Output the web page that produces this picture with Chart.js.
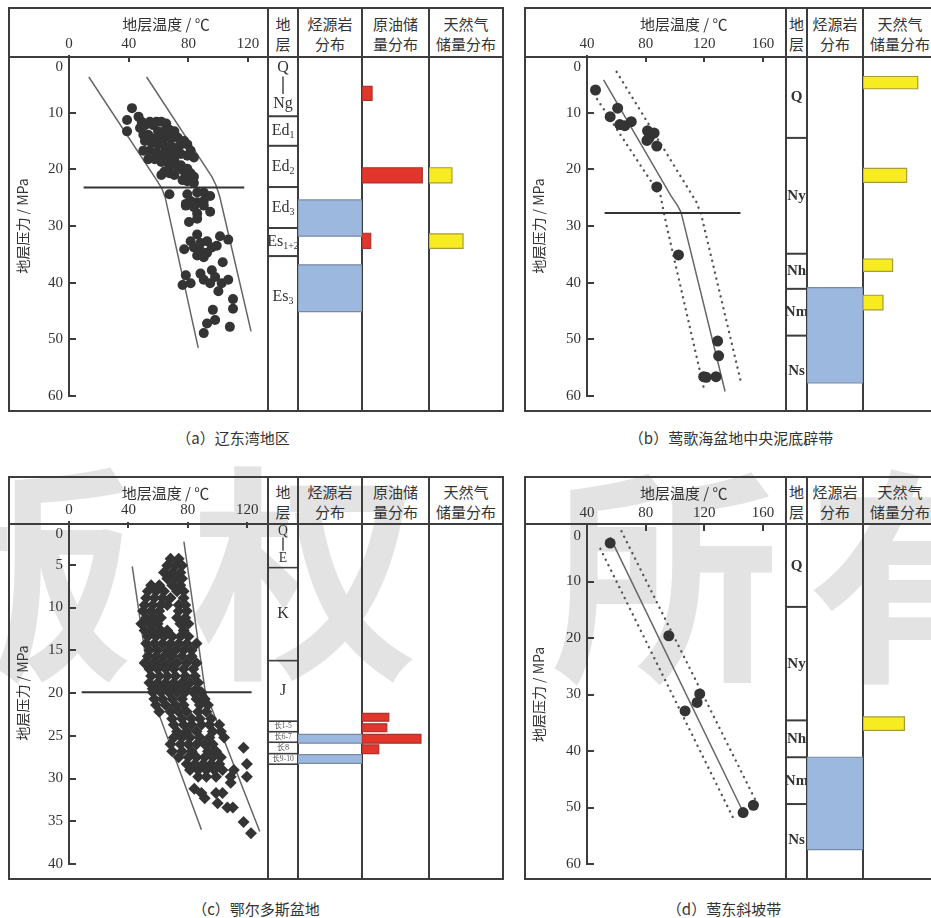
<!DOCTYPE html>
<html>
<head>
<meta charset="utf-8">
<script src="https://cdn.jsdelivr.net/npm/chart.js@4.4.1/dist/chart.umd.min.js"></script>
<style>
  html, body { margin: 0; padding: 0; background: #fff; }
  #page { position: relative; width: 931px; height: 918px; overflow: hidden; background: #fff;
          font-family: "Noto Sans CJK SC", sans-serif; color: #333; }
  .wm { position: absolute; font: 700 228px/1 "Noto Sans CJK SC", sans-serif; color: #e3e3e3;
        transform: translate(-50%, -50%); white-space: nowrap; }
  .rule { position: absolute; background: #3d3d3d; }
  .hd { position: absolute; text-align: center; font-size: 15px; line-height: 20px; color: #333;
        white-space: nowrap; overflow: visible; }
  .cap { position: absolute; font-size: 15px; color: #333; white-space: nowrap;
         transform: translate(-50%, -50%); }
  canvas { position: absolute; }
</style>
</head>
<body>
<div id="page"></div>
<script>
// ---------- axis ticks ----------
const tempTicks0 = [0, 40, 80, 120];
const tempTicks40 = [40, 80, 120, 160];
const pressTicks60 = [0, 10, 20, 30, 40, 50, 60];
const pressTicks40 = [0, 5, 10, 15, 20, 25, 30, 35, 40];

// ---------- (a) 辽东湾地区 ----------
const liaodongPoints = [
  [42.2,9.2],[38.9,11.3],[38.9,13.3],[46.6,10.7],[48.7,11.6],[47.6,12.7],[50.9,12.2],[54.2,11.6],
  [56.4,12.2],[58.6,11.6],[61.9,11.6],[65.1,11.9],[59.7,13.3],[64.0,13.3],[67.3,13.0],[70.6,13.3],
  [72.8,14.4],[68.4,14.4],[64.0,14.4],[58.6,14.4],[53.1,13.9],[49.8,13.9],[50.9,15.0],[55.3,15.3],
  [59.7,15.6],[64.0,15.9],[68.4,15.9],[73.9,15.9],[77.2,15.0],[79.3,15.6],[81.5,16.7],[83.7,17.9],
  [79.3,17.6],[75.0,17.3],[71.7,17.0],[67.3,17.3],[62.9,17.3],[58.6,17.0],[54.2,16.7],[49.8,16.7],
  [53.1,18.2],[57.5,18.2],[61.9,18.7],[66.2,18.7],[70.6,18.4],[67.3,19.6],[72.8,19.6],[75.0,19.3],
  [64.0,20.4],[61.9,21.0],[67.3,20.7],[70.6,21.0],[76.1,20.1],[79.3,19.9],[78.3,21.0],[81.5,20.7],
  [83.7,21.3],[76.1,21.9],[79.3,22.1],[83.7,22.4],[67.3,24.4],[79.3,24.4],[85.9,24.1],[90.3,24.1],
  [94.6,24.7],[81.5,25.6],[85.9,25.8],[90.3,25.6],[78.3,26.1],[85.9,27.8],[94.6,27.5],
  [78.3,26.4],[83.7,26.7],[90.3,26.4],[80.4,29.3],[85.9,28.7],[85.9,31.5],[81.5,32.7],[77.2,34.1],
  [83.7,33.8],[88.1,34.4],[92.5,32.7],[92.5,34.7],[95.7,33.8],[90.3,35.5],[85.9,35.2],[99.0,33.5],
  [101.2,31.8],[106.7,32.4],[88.1,33.0],[103.0,36.4],[78.3,38.7],[76.1,40.4],[81.5,40.1],[88.1,38.4],
  [90.3,39.5],[95.7,37.8],[97.9,39.0],[94.6,40.1],[102.3,40.1],[106.7,39.5],[100.1,41.5],[109.9,42.9],
  [109.9,44.6],[96.4,44.8],[97.9,46.6],[92.5,47.2],[90.3,48.9],[107.8,47.8]
];
const liaodongLowerBound = [[13.3,3.7],[59.5,22.2],[62.2,23.4],[64.5,25.0],[86.6,51.5]];
const liaodongUpperBound = [[52.0,3.7],[95.7,21.3],[98.5,22.8],[101.0,24.8],[122.0,48.6]];
const liaodongCutoff = [[9.8,23.2],[117.4,23.2]];
const liaodongStrata = ['Q|Ng', 'Ed_1', 'Ed_2', 'Ed_3', 'Es_1+2', 'Es_3'];
const liaodongStrataTop = [0, 10.3, 15.35, 22.4, 29.4, 34.2];
const liaodongStrataBase = [10.3, 15.35, 22.4, 29.4, 34.2, 48.2];
const liaodongBoundaries = [10.3, 15.35, 22.4, 29.4, 34.2];
const liaodongSourceTop = [24.6, 35.7];
const liaodongSourceBase = [30.8, 43.7];
const liaodongOilTop = [5.2, 19.1, 30.3];
const liaodongOilBase = [7.6, 21.7, 32.9];
const liaodongOilShare = [15, 90, 13];
const liaodongGasTop = [19.1, 30.4];
const liaodongGasBase = [21.7, 32.9];
const liaodongGasShare = [31, 46];

// ---------- (b) 莺歌海盆地中央泥底辟带 ----------
const diapirPoints = [
  [45.8,6.0],[55.8,10.7],[60.9,9.2],[62.4,12.1],[65.8,12.3],[70.2,11.6],[81.3,13.2],[83.1,13.9],
  [85.8,13.6],[82.4,14.4],[80.9,14.9],[87.6,15.9],[87.6,23.1],[102.4,35.1],[129.1,50.3],[129.8,52.9],
  [119.6,56.6],[121.3,56.7],[128.0,56.6]
];
const diapirTrend = [[51.3,4.2],[97.3,24.7],[101.8,26.4],[104.2,27.6],[134.2,59.2]];
const diapirLowerBound = [[46.9,7.6],[90.2,24.7],[92.4,27.6],[94.7,30.4],[120.2,59.2]];
const diapirUpperBound = [[60.2,2.8],[114.7,25.8],[118.0,28.1],[144.7,57.2]];
const diapirCutoff = [[52.0,27.7],[144.7,27.7]];
const diapirStrata = ['Q', 'Ny', 'Nh', 'Nm', 'Ns'];
const diapirStrataTop = [0, 14.0, 33.8, 39.8, 47.8];
const diapirStrataBase = [14.0, 33.8, 39.8, 47.8, 60];
const diapirBoundaries = [14.0, 33.8, 39.8, 47.8];
const diapirSourceTop = [39.6];
const diapirSourceBase = [55.9];
const diapirGasTop = [3.5, 19.2, 34.7, 40.9];
const diapirGasBase = [5.6, 21.6, 36.8, 43.4];
const diapirGasShare = [74, 59, 40, 27];

// ---------- (c) 鄂尔多斯盆地 ----------
const ordosPoints = [
  [68.4,4.3],[73.9,4.3],
  [66.2,5.1],[71.7,5.1],[76.1,5.1],
  [64.0,5.9],[69.5,5.9],[75.0,5.9],
  [66.2,6.6],[71.7,6.6],[76.1,6.6],
  [55.3,7.4],[60.8,7.4],[69.5,7.4],[75.0,7.4],
  [53.1,8.1],[58.6,8.1],[64.0,8.1],[72.8,8.1],[77.2,8.1],
  [52.0,8.9],[57.5,8.9],[63.0,8.9],[68.4,8.9],[77.2,8.9],
  [50.9,9.7],[56.4,9.7],[61.9,9.7],[66.2,9.7],[73.9,9.7],[78.3,9.7],
  [49.8,10.4],[55.3,10.4],[60.8,10.4],[73.9,10.4],[79.3,10.4],
  [52.0,11.2],[57.5,11.2],[61.9,11.2],[72.8,11.2],[78.3,11.2],
  [48.7,11.9],[54.2,11.9],[59.7,11.9],[75.0,11.9],[80.4,11.9],
  [50.9,12.7],[56.4,12.7],[61.9,12.7],[66.2,12.7],[77.2,12.7],
  [53.1,13.4],[58.6,13.4],[64.0,13.4],[69.5,13.4],[75.0,13.4],[80.4,13.4],
  [52.0,14.2],[57.5,14.2],[63.0,14.2],[68.4,14.2],[73.9,14.2],[79.3,14.2],[85.9,14.2],
  [54.2,15.0],[59.7,15.0],[66.2,15.0],[71.7,15.0],[77.2,15.0],[82.6,15.0],
  [53.1,15.7],[58.6,15.7],[64.0,15.7],[69.5,15.7],[76.1,15.7],[82.6,15.7],
  [50.9,16.5],[56.4,16.5],[61.9,16.5],[67.3,16.5],[72.8,16.5],[79.3,16.5],[85.9,16.5],
  [54.2,17.2],[59.7,17.2],[65.1,17.2],[70.6,17.2],[77.2,17.2],[83.7,17.2],
  [55.3,18.0],[60.8,18.0],[66.2,18.0],[71.7,18.0],[78.3,18.0],[84.8,18.0],
  [54.2,18.8],[59.7,18.8],[65.1,18.8],[70.6,18.8],[76.1,18.8],[81.5,18.8],[87.0,18.8],
  [56.4,19.5],[61.9,19.5],[68.4,19.5],[73.9,19.5],[79.3,19.5],[85.9,19.5],
  [56.4,19.9],[61.9,19.9],[67.3,19.9],[72.8,19.9],[78.3,19.9],[83.7,19.9],[89.2,19.9],
  [57.5,20.7],[63.0,20.7],[69.5,20.7],[76.1,20.7],[85.9,20.7],[91.4,20.7],
  [58.6,21.4],[65.1,21.4],[71.7,21.4],[77.2,21.4],[88.1,21.4],[93.6,21.4],
  [60.8,22.2],[68.4,22.2],[73.9,22.2],[79.3,22.2],[87.0,22.2],[92.5,22.2],
  [69.5,23.0],[76.1,23.0],[82.6,23.0],[88.1,23.0],[95.7,23.0],
  [70.6,23.7],[77.2,23.7],[82.6,23.7],[89.2,23.7],[94.6,23.7],[101.2,23.7],
  [72.8,24.5],[79.3,24.5],[85.9,24.5],[96.8,24.5],[102.3,24.5],
  [70.6,25.2],[76.1,25.2],[81.5,25.2],[88.1,25.2],[94.6,25.2],[104.5,25.2],
  [68.4,26.0],[75.0,26.0],[80.4,26.0],[85.9,26.0],[91.4,26.0],[96.8,26.0],
  [69.5,26.8],[76.1,26.8],[82.6,26.8],[93.6,26.8],[99.0,26.8],
  [73.9,27.5],[80.4,27.5],[85.9,27.5],[91.4,27.5],[96.8,27.5],[102.3,27.5],
  [79.3,28.3],[84.8,28.3],[90.3,28.3],[95.7,28.3],[101.2,28.3],
  [81.5,29.0],[87.0,29.0],[92.5,29.0],[97.9,29.0],[103.4,29.0],[111.0,29.0],
  [87.0,29.8],[92.5,29.8],[99.0,29.8],[108.9,29.8],
  [108.9,30.5],[84.4,31.2],[89.2,31.7],[99.0,31.7],[103.4,31.7],[91.4,32.3],[100.1,32.9],
  [106.7,33.4],[110.4,33.4],[117.6,35.1],[122.6,36.4],[117.6,26.4],[119.8,28.3],[119.8,29.8]
];
const ordosLowerBound = [[42.6,5.2],[55.1,19.9],[89.2,36.0]];
const ordosUpperBound = [[77.4,2.3],[91.8,19.9],[128.5,36.2]];
const ordosCutoff = [[8.5,19.9],[123.0,19.9]];
const ordosStrata = ['Q|E', 'K', 'J', '长1-5', '长6-7', '长8', '长9-10'];
const ordosStrataTop = [0, 5.2, 15.8, 22.7, 23.9, 25.1, 26.4];
const ordosStrataBase = [5.2, 15.8, 22.7, 23.9, 25.1, 26.4, 27.6];
const ordosBoundaries = [5.2, 15.8, 22.7, 23.9, 25.1, 26.4, 27.6];
const ordosSourceTop = [24.2, 26.5];
const ordosSourceBase = [25.2, 27.5];
const ordosOilTop = [21.8, 23.0, 24.2, 25.4];
const ordosOilBase = [22.7, 23.9, 25.2, 26.4];
const ordosOilShare = [40, 37, 88, 25];

// ---------- (d) 莺东斜坡带 ----------
const slopePoints = [[55.8,3.2],[95.8,19.6],[116.9,29.9],[115.1,31.4],[106.9,32.9],[146.5,50.9],[153.5,49.6]];
const slopeTrend = [[55.8,2.2],[146.5,50.8]];
const slopeLowerBound = [[49.1,4.2],[140.2,52.1]];
const slopeUpperBound = [[63.5,1.1],[158.0,50.3]];
const slopeStrata = ['Q', 'Ny', 'Nh', 'Nm', 'Ns'];
const slopeStrataTop = [0, 14.0, 33.4, 39.7, 47.7];
const slopeStrataBase = [14.0, 33.4, 39.7, 47.7, 60];
const slopeBoundaries = [14.0, 33.4, 39.7, 47.7];
const slopeSourceTop = [39.7];
const slopeSourceBase = [55.5];
const slopeGasTop = [32.8];
const slopeGasBase = [35.1];
const slopeGasShare = [56];

// ---------- styling ----------
const INK = '#3d3d3d';
const SOURCE_FILL = '#9db8df', SOURCE_EDGE = '#7a8aa3';
const OIL_FILL = '#e2352b', OIL_EDGE = '#a8342e';
const GAS_FILL = '#f6ec1f', GAS_EDGE = '#a89c3a';
const SERIF = '"Liberation Serif", "Noto Sans CJK SC", serif';
const CJK = '"Noto Sans CJK SC", sans-serif';

Chart.defaults.font.family = SERIF;
Chart.defaults.color = '#333';

const page = document.getElementById('page');

// Faint background lettering across the lower row
[['版', 20, 562], ['权', 305, 562], ['所', 665, 565], ['有', 922, 565]].forEach(([ch, x, y]) => {
  const d = document.createElement('div');
  d.className = 'wm'; d.textContent = ch;
  d.style.left = x + 'px'; d.style.top = y + 'px';
  page.appendChild(d);
});

function rule(x, y, w, h) {
  const d = document.createElement('div');
  d.className = 'rule';
  Object.assign(d.style, { left: x + 'px', top: y + 'px', width: w + 'px', height: h + 'px' });
  page.appendChild(d);
}
function headText(lines, x0, x1, mid) {
  const d = document.createElement('div');
  d.className = 'hd';
  d.innerHTML = lines.join('<br>');
  Object.assign(d.style, { left: x0 + 'px', width: (x1 - x0) + 'px', top: (mid - 19) + 'px' });
  page.appendChild(d);
}
function makeCanvas(x, y, w, h) {
  const c = document.createElement('canvas');
  c.width = Math.round(w); c.height = Math.round(h);
  c.style.left = x + 'px'; c.style.top = y + 'px';
  page.appendChild(c);
  return c;
}

// Short tick marks pointing into the plot, plus the top pressure label set below the header rule
const inwardTicks = {
  id: 'inwardTicks',
  afterDraw(chart, args, opts) {
    const { ctx, chartArea: a, scales: { x, y } } = chart;
    ctx.save();
    ctx.strokeStyle = INK; ctx.lineWidth = 2;
    ctx.beginPath();
    x.ticks.forEach(t => {
      if (t.value === x.min) return;
      const p = Math.round(x.getPixelForValue(t.value));
      ctx.moveTo(p, a.top); ctx.lineTo(p, a.top + 6);
    });
    y.ticks.forEach(t => {
      if (t.value === y.min) return;
      const p = Math.round(y.getPixelForValue(t.value));
      ctx.moveTo(a.left, p); ctx.lineTo(a.left + 7, p);
    });
    ctx.stroke();
    ctx.fillStyle = '#333';
    ctx.font = '15px ' + SERIF;
    ctx.textAlign = 'right'; ctx.textBaseline = 'middle';
    ctx.fillText(String(y.min), a.left - 6, y.getPixelForValue(y.min) + opts.zeroDrop);
    ctx.restore();
  }
};

// Stratum names written inside their depth interval
const stratumText = {
  id: 'stratumText',
  afterDatasetsDraw(chart, args, opts) {
    const { ctx, chartArea: a, scales: { y } } = chart;
    const cx = (a.left + a.right) / 2;
    ctx.save();
    ctx.fillStyle = '#333'; ctx.strokeStyle = INK;
    ctx.textBaseline = 'middle';
    const weight = opts.bold ? '700 ' : '';
    opts.names.forEach((name, i) => {
      const top = y.getPixelForValue(opts.tops[i]);
      const base = y.getPixelForValue(opts.bases[i]);
      const h = base - top;
      if (name.includes('|')) {
        const [upper, lower] = name.split('|');
        const fs = Math.min(opts.size, h * 0.3);
        ctx.font = weight + fs + 'px ' + SERIF;
        ctx.textAlign = 'center';
        ctx.fillText(upper, cx, top + h * 0.2);
        ctx.fillText(lower, cx, top + h * 0.79);
        ctx.lineWidth = 1.4;
        ctx.beginPath();
        ctx.moveTo(cx, top + h * 0.34); ctx.lineTo(cx, top + h * 0.63);
        ctx.stroke();
        return;
      }
      const [main, sub] = name.split('_');
      const small = h < 16;
      const fs = small ? Math.max(6.5, h * 0.72) : opts.size;
      ctx.fillStyle = small ? '#555' : '#333';
      ctx.font = weight + fs + 'px ' + SERIF;
      const mw = ctx.measureText(main).width;
      let sw = 0;
      const sfs = fs * 0.62;
      if (sub) { ctx.font = weight + sfs + 'px ' + SERIF; sw = ctx.measureText(sub).width; }
      const mid = (top + base) / 2;
      const x0 = cx - (mw + sw) / 2;
      ctx.textAlign = 'left';
      ctx.font = weight + fs + 'px ' + SERIF;
      ctx.fillText(main, x0, mid);
      if (sub) {
        ctx.font = weight + sfs + 'px ' + SERIF;
        ctx.fillText(sub, x0 + mw, mid + fs * 0.3);
      }
    });
    ctx.restore();
  }
};

const toXY = pts => pts.map(([x, y]) => ({ x, y }));
function lineSet(pts, o = {}) {
  return {
    data: toXY(pts), showLine: true, pointRadius: 0, fill: false, tension: 0,
    borderColor: o.color || '#666', borderWidth: o.width || 1.5,
    borderDash: o.dash || [], borderCapStyle: o.cap || 'butt'
  };
}
const dotted = pts => lineSet(pts, { color: '#555', width: 2.4, dash: [0.1, 6], cap: 'round' });
function marks(pts, style, r) {
  return { data: toXY(pts), pointStyle: style, pointRadius: r, backgroundColor: '#343434', borderWidth: 0, showLine: false };
}
// Filled rectangles spanning a pressure interval, running from the column's left edge
function blocks(tops, bases, shares, fill, edge) {
  return tops.map((t, i) => ({
    data: [{ x: 0, y: t }, { x: shares[i], y: t }, { x: shares[i], y: bases[i] }, { x: 0, y: bases[i] }, { x: 0, y: t }],
    showLine: true, fill: 'shape', tension: 0, pointRadius: 0,
    backgroundColor: fill, borderColor: edge, borderWidth: 1.2
  }));
}
const fullWidth = arr => arr.map(() => 100);

function scatterChart(f, p) {
  const cv = makeCanvas(f.left, f.top, f.cols[0] - f.left, f.bottom - f.top);
  new Chart(cv, {
    type: 'scatter',
    data: { datasets: p.scatter },
    options: {
      responsive: false, animation: false, events: [], devicePixelRatio: 1,
      layout: { padding: { left: 0, right: 0, top: 0, bottom: f.bottom - f.plotBottom } },
      scales: {
        x: {
          type: 'linear', position: 'top', min: p.xMin, max: p.xMax,
          afterBuildTicks: s => { s.ticks = p.xTicks.map(v => ({ value: v })); },
          afterFit: s => { s.height = f.plotTop - f.top; },
          grid: { display: false, drawTicks: false }, border: { display: false },
          ticks: { padding: 3, color: '#333', font: { family: SERIF, size: 15 }, maxRotation: 0, autoSkip: false },
          title: { display: true, text: '地层温度 / ℃', color: '#333', font: { family: CJK, size: 15 }, padding: { top: 7, bottom: 0 } }
        },
        y: {
          type: 'linear', min: 0, max: p.yMax, reverse: true,
          afterBuildTicks: s => { s.ticks = p.yTicks.map(v => ({ value: v })); },
          afterFit: s => { s.width = f.plotLeft - f.left; },
          grid: { display: false, drawTicks: false }, border: { display: true, color: INK, width: 2 },
          ticks: { padding: 6, color: '#333', font: { family: SERIF, size: 15 }, autoSkip: false,
                   callback: v => (v === 0 ? '' : String(v)) },
          title: { display: true, text: '地层压力 / MPa', color: '#333', font: { family: CJK, size: 14 }, padding: { top: 5, bottom: 0 } }
        }
      },
      plugins: { legend: { display: false }, tooltip: { enabled: false }, inwardTicks: { zeroDrop: p.zeroDrop } }
    },
    plugins: [inwardTicks]
  });
}

function columnChart(x0, x1, f, yMax, datasets, textOpts) {
  const cv = makeCanvas(x0, f.plotTop, x1 - x0, f.plotBottom - f.plotTop);
  new Chart(cv, {
    type: 'scatter',
    data: { datasets },
    options: {
      responsive: false, animation: false, events: [], devicePixelRatio: 1,
      layout: { padding: 0 },
      scales: {
        x: { type: 'linear', min: 0, max: 100, display: false },
        y: { type: 'linear', min: 0, max: yMax, reverse: true, display: false }
      },
      plugins: { legend: { display: false }, tooltip: { enabled: false }, stratumText: textOpts || false }
    },
    plugins: [stratumText]
  });
}

function buildPanel(f, p) {
  const { left: L, top: T, right: R, bottom: B, head: H } = f;
  // frame, header rule and column dividers
  rule(L - 1, T - 1, R - L + 2, 2);
  rule(L - 1, B - 1, R - L + 2, 2);
  rule(L - 1, T - 1, 2, B - T + 2);
  rule(R - 1, T - 1, 2, B - T + 2);
  rule(L - 1, H - 1, R - L + 2, 2);
  f.cols.forEach(x => rule(x - 1, T - 1, 2, B - T + 2));

  const headMid = (T + H) / 2;
  headText(['地', '层'], f.cols[0], f.cols[1], headMid);

  scatterChart(f, p);

  // strata column
  const s = p.strata;
  columnChart(f.cols[0], f.cols[1], f, p.yMax,
    s.lines.map(b => lineSet([[0, b], [100, b]], { color: INK, width: s.lineWidth })),
    { names: s.names, tops: s.tops, bases: s.bases, size: s.size, bold: s.bold });

  // property columns
  p.columns.forEach((col, i) => {
    headText(col.title, f.cols[i + 1], f.cols[i + 2], headMid);
    columnChart(f.cols[i + 1], f.cols[i + 2], f, p.yMax, col.sets, null);
  });

  const c = document.createElement('div');
  c.className = 'cap'; c.textContent = p.caption;
  c.style.left = f.caption[0] + 'px'; c.style.top = f.caption[1] + 'px';
  page.appendChild(c);
}

const frames = {
  a: { left: 9, top: 8, right: 503, bottom: 411, head: 57, cols: [268, 298, 362, 429, 503], plotLeft: 69, plotTop: 56, plotBottom: 407, caption: [233, 437] },
  b: { left: 525, top: 8, right: 937, bottom: 411, head: 57, cols: [786, 807, 863, 937], plotLeft: 587, plotTop: 56, plotBottom: 407, caption: [731, 437] },
  c: { left: 9, top: 477, right: 503, bottom: 879, head: 524, cols: [268, 298, 362, 429, 503], plotLeft: 69, plotTop: 522, plotBottom: 873, caption: [256, 908] },
  d: { left: 525, top: 477, right: 937, bottom: 879, head: 524, cols: [786, 807, 863, 937], plotLeft: 587, plotTop: 525, plotBottom: 876, caption: [724, 908] }
};

buildPanel(frames.a, {
  xMin: 0, xMax: 130, xTicks: tempTicks0, yMax: 60, yTicks: pressTicks60, zeroDrop: 11,
  scatter: [
    marks(liaodongPoints, 'circle', 5),
    lineSet(liaodongCutoff, { color: '#333', width: 2 }),
    lineSet(liaodongLowerBound), lineSet(liaodongUpperBound)
  ],
  strata: { names: liaodongStrata, tops: liaodongStrataTop, bases: liaodongStrataBase, lines: liaodongBoundaries, size: 16, bold: false, lineWidth: 2 },
  columns: [
    { title: ['烃源岩', '分布'], sets: blocks(liaodongSourceTop, liaodongSourceBase, fullWidth(liaodongSourceTop), SOURCE_FILL, SOURCE_EDGE) },
    { title: ['原油储', '量分布'], sets: blocks(liaodongOilTop, liaodongOilBase, liaodongOilShare, OIL_FILL, OIL_EDGE) },
    { title: ['天然气', '储量分布'], sets: blocks(liaodongGasTop, liaodongGasBase, liaodongGasShare, GAS_FILL, GAS_EDGE) }
  ],
  caption: '（a）辽东湾地区'
});

buildPanel(frames.b, {
  xMin: 40, xMax: 172, xTicks: tempTicks40, yMax: 60, yTicks: pressTicks60, zeroDrop: 11,
  scatter: [
    marks(diapirPoints, 'circle', 5.5),
    lineSet(diapirCutoff, { color: '#333', width: 2 }),
    lineSet(diapirTrend), dotted(diapirLowerBound), dotted(diapirUpperBound)
  ],
  strata: { names: diapirStrata, tops: diapirStrataTop, bases: diapirStrataBase, lines: diapirBoundaries, size: 15, bold: true, lineWidth: 2 },
  columns: [
    { title: ['烃源岩', '分布'], sets: blocks(diapirSourceTop, diapirSourceBase, fullWidth(diapirSourceTop), SOURCE_FILL, SOURCE_EDGE) },
    { title: ['天然气', '储量分布'], sets: blocks(diapirGasTop, diapirGasBase, diapirGasShare, GAS_FILL, GAS_EDGE) }
  ],
  caption: '（b）莺歌海盆地中央泥底辟带'
});

buildPanel(frames.c, {
  xMin: 0, xMax: 130, xTicks: tempTicks0, yMax: 40, yTicks: pressTicks40, zeroDrop: 12,
  scatter: [
    marks(ordosPoints, 'rectRot', 6),
    lineSet(ordosCutoff, { color: '#333', width: 2 }),
    lineSet(ordosLowerBound), lineSet(ordosUpperBound)
  ],
  strata: { names: ordosStrata, tops: ordosStrataTop, bases: ordosStrataBase, lines: ordosBoundaries, size: 16, bold: false, lineWidth: 1.6 },
  columns: [
    { title: ['烃源岩', '分布'], sets: blocks(ordosSourceTop, ordosSourceBase, fullWidth(ordosSourceTop), SOURCE_FILL, SOURCE_EDGE) },
    { title: ['原油储', '量分布'], sets: blocks(ordosOilTop, ordosOilBase, ordosOilShare, OIL_FILL, OIL_EDGE) },
    { title: ['天然气', '储量分布'], sets: [] }
  ],
  caption: '（c）鄂尔多斯盆地'
});

buildPanel(frames.d, {
  xMin: 40, xMax: 172, xTicks: tempTicks40, yMax: 60, yTicks: pressTicks60, zeroDrop: 11,
  scatter: [
    marks(slopePoints, 'circle', 5.5),
    lineSet(slopeTrend), dotted(slopeLowerBound), dotted(slopeUpperBound)
  ],
  strata: { names: slopeStrata, tops: slopeStrataTop, bases: slopeStrataBase, lines: slopeBoundaries, size: 15, bold: true, lineWidth: 2 },
  columns: [
    { title: ['烃源岩', '分布'], sets: blocks(slopeSourceTop, slopeSourceBase, fullWidth(slopeSourceTop), SOURCE_FILL, SOURCE_EDGE) },
    { title: ['天然气', '储量分布'], sets: blocks(slopeGasTop, slopeGasBase, slopeGasShare, GAS_FILL, GAS_EDGE) }
  ],
  caption: '（d）莺东斜坡带'
});
</script>
</body>
</html>
